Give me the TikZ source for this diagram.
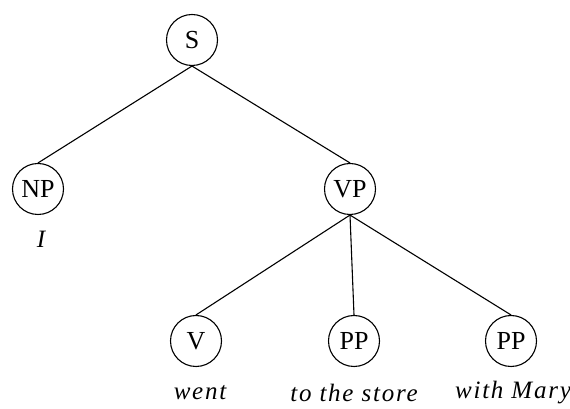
\documentclass[tikz,border=0pt]{standalone}
\usepackage{fontspec}
\setmainfont{Liberation Serif}
\usepackage{tikz}
\usetikzlibrary{shapes}
\tikzset{phrase/.style={circle, draw=black, minimum size=51pt, inner sep=0pt}}
\tikzset{word/.style={font=\fontsize{25}{29}\selectfont\itshape\addfontfeature{LetterSpace=7}}}

\begin{document}
\begin{tikzpicture}[x=1pt,y=1pt,line width=1.1pt,font=\fontsize{26}{30}\selectfont]
\useasboundingbox (0,0) rectangle (570,409);
\node[phrase] (S) at (192,369) {S};
\node[phrase] (NP) at (38,220) {NP};
\node[phrase] (VP) at (350,220) {VP};
\node[phrase] (V) at (196,68) {V};
\node[phrase] (PPa) at (354,68) {PP};
\node[phrase] (PPb) at (511,68) {PP};
\node[word] (I) at (41,170) {I};
\node[word] (went) at (200,16) {went};
\node[word] (store) at (354,16) {to the store};
\node[word] (mary) at (513,16) {with Mary};
\draw (S.south) -- (NP.north);
\draw (S.south) -- (VP.north);
\draw (VP.south) -- (V.north);
\draw (VP.south) -- (PPa.north);
\draw (VP.south) -- (PPb.north);
\end{tikzpicture}
\end{document}
